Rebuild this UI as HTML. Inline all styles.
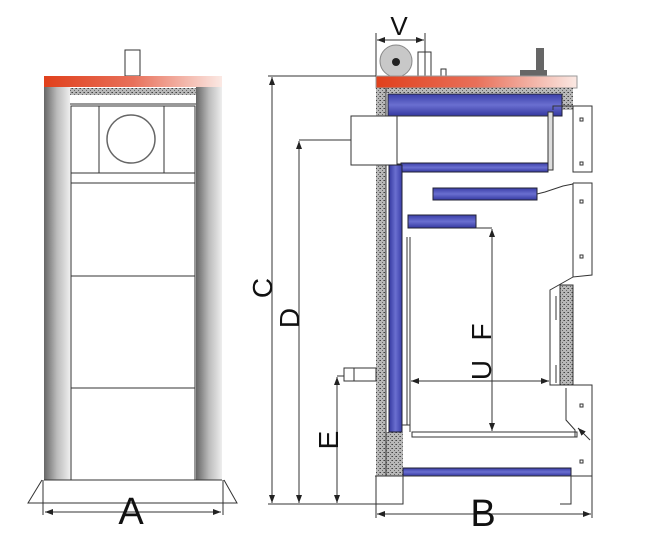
<!DOCTYPE html>
<html><head><meta charset="utf-8"><style>
body{margin:0;background:#fff;}
svg{display:block;}
text{font-family:"Liberation Sans",sans-serif;fill:#111;}
</style></head><body>
<svg width="662" height="541" viewBox="0 0 662 541" xmlns="http://www.w3.org/2000/svg">
<defs>
<linearGradient id="red" x1="0" x2="1"><stop offset="0" stop-color="#e0401c"/><stop offset="0.5" stop-color="#e8705a"/><stop offset="1" stop-color="#fbe9e4"/></linearGradient>
<linearGradient id="col" x1="0" x2="1"><stop offset="0" stop-color="#666"/><stop offset="0.5" stop-color="#bbb"/><stop offset="1" stop-color="#eee"/></linearGradient>
<linearGradient id="blue" x1="0" x2="1"><stop offset="0" stop-color="#3438a0"/><stop offset="0.5" stop-color="#6a6fd0"/><stop offset="1" stop-color="#3a3ea8"/></linearGradient>
<linearGradient id="blueV" x1="0" y1="0" x2="0" y2="1"><stop offset="0" stop-color="#3a3ea8"/><stop offset="0.5" stop-color="#6a6fd0"/><stop offset="1" stop-color="#3438a0"/></linearGradient>
<pattern id="ins" width="4" height="4" patternUnits="userSpaceOnUse"><rect width="4" height="4" fill="#b8b8b8"/><rect x="0" y="0" width="1" height="1" fill="#444"/><rect x="2" y="2" width="1" height="1" fill="#666"/><rect x="3" y="0" width="1" height="1" fill="#777"/></pattern>
<marker id="ar" markerWidth="8" markerHeight="6" refX="8" refY="3" orient="auto" markerUnits="userSpaceOnUse"><path d="M0,0 L8,3 L0,6z" fill="#222"/></marker>
</defs>
<g stroke="#333" stroke-width="1" fill="none">
<rect x="125" y="50" width="15" height="26" fill="#fff"/>
<rect x="44" y="76" width="178" height="11" fill="url(#red)" stroke="none"/>
<rect x="44" y="87" width="26" height="393" fill="url(#col)" stroke="none"/>
<rect x="196" y="87" width="26" height="393" fill="url(#col)" stroke="none"/>
<rect x="70" y="88" width="126" height="7" fill="url(#ins)" stroke="none"/>
<line x1="70" y1="104" x2="196" y2="104"/>
<rect x="71" y="106" width="124" height="374"/>
<rect x="99" y="106" width="65" height="67" fill="#fff"/>
<circle cx="131" cy="139" r="24" stroke="#666" stroke-width="1.5"/>
<line x1="71" y1="173" x2="195" y2="173"/>
<line x1="71" y1="183" x2="195" y2="183"/>
<line x1="71" y1="276" x2="195" y2="276"/>
<line x1="71" y1="388" x2="195" y2="388"/>
<line x1="44" y1="480" x2="222" y2="480"/>
<path d="M42,480 L28,503 L237,503 L224,480"/>
<line x1="43" y1="480" x2="43" y2="515"/>
<line x1="223" y1="480" x2="223" y2="515"/>
<line x1="60" y1="512" x2="45" y2="512" marker-end="url(#ar)"/>
<line x1="60" y1="512" x2="206" y2="512"/>
<line x1="206" y1="512" x2="221" y2="512" marker-end="url(#ar)"/>
<circle cx="396" cy="61" r="16" fill="#c8c8c8" stroke="#888"/>
<circle cx="396" cy="62" r="4" fill="#222" stroke="none"/>
<rect x="418" y="52" width="13" height="24" fill="#fff"/>
<rect x="441" y="69" width="5" height="7" fill="#fff"/>
<rect x="520" y="70" width="27" height="6" fill="#666" stroke="none"/>
<rect x="536" y="48" width="8" height="22" fill="#666" stroke="none"/>
<line x1="376" y1="33" x2="376" y2="76"/>
<line x1="425" y1="33" x2="425" y2="76"/>
<line x1="390" y1="40" x2="377" y2="40" marker-end="url(#ar)"/>
<line x1="390" y1="40" x2="410" y2="40"/>
<line x1="410" y1="40" x2="424" y2="40" marker-end="url(#ar)"/>
<rect x="376" y="76" width="201" height="12" fill="url(#red)" stroke="#999"/>
<rect x="376" y="88" width="10" height="388" fill="url(#ins)" stroke="none"/>
<rect x="386" y="88" width="187" height="5" fill="url(#ins)" stroke="none"/>
<rect x="562" y="88" width="11" height="22" fill="url(#ins)" stroke="none"/>
<rect x="376" y="432" width="27" height="44" fill="url(#ins)" stroke="none"/>
<line x1="386" y1="88" x2="386" y2="476"/>
<rect x="388" y="94" width="174" height="22" fill="url(#blueV)" stroke="#223"/>
<rect x="351" y="116" width="46" height="49" fill="#fff"/>
<line x1="397" y1="116" x2="548" y2="116"/>
<line x1="397" y1="164" x2="548" y2="164"/>
<rect x="548" y="112" width="5" height="58" fill="#ddd"/>
<rect x="401" y="163" width="147" height="9" fill="url(#blueV)" stroke="#223"/>
<rect x="389" y="165" width="13" height="267" fill="url(#blue)" stroke="#223"/>
<rect x="433" y="188" width="104" height="12" fill="url(#blueV)" stroke="#223"/>
<path d="M537,194 L545,192 L563,186 L573,184"/>
<rect x="408" y="215" width="68" height="13" fill="url(#blueV)" stroke="#223"/>
<line x1="407" y1="237" x2="407" y2="425"/>
<line x1="410" y1="237" x2="410" y2="425"/>
<path d="M402,425 L410,425 L410,432"/>
<rect x="412" y="432" width="165" height="5" fill="#fff"/>
<rect x="403" y="468" width="168" height="8" fill="url(#blueV)" stroke="#223"/>
<path d="M553,110 L553,106 L573,106 L573,172 L592,172 L592,106 L573,106"/>
<path d="M573,183 L592,183 L592,275 L573,277 L573,183"/>
<path d="M573,277 L550,290 L550,385 L573,385"/>
<rect x="560" y="285" width="13" height="100" fill="url(#ins)" stroke="#333"/>
<path d="M556,296 L556,320 M556,365 L556,383"/>
<path d="M562,385 L592,385 L592,480 M566,388 L566,420 L575,430 L575,437"/>
<path d="M590,440 L578,428" marker-end="url(#ar)"/>
<rect x="580" y="118" width="3" height="3"/><rect x="580" y="162" width="3" height="3"/>
<rect x="580" y="200" width="3" height="3"/><rect x="580" y="255" width="3" height="3"/>
<rect x="580" y="404" width="3" height="3"/><rect x="580" y="460" width="3" height="3"/>
<path d="M375,476 L592,476"/>
<path d="M376,476 L376,518 M592,476 L592,518"/>
<path d="M403,476 L403,504 L375,504"/>
<path d="M571,476 L571,504 L560,504"/>
<line x1="390" y1="514" x2="377" y2="514" marker-end="url(#ar)"/>
<line x1="390" y1="514" x2="578" y2="514"/>
<line x1="578" y1="514" x2="591" y2="514" marker-end="url(#ar)"/>
<rect x="344" y="368" width="32" height="13" fill="#fff"/>
<line x1="354" y1="368" x2="354" y2="381"/>
<line x1="268" y1="76" x2="376" y2="76"/>
<line x1="268" y1="504" x2="376" y2="504"/>
<line x1="272" y1="95" x2="272" y2="77" marker-end="url(#ar)"/>
<line x1="272" y1="95" x2="272" y2="485"/>
<line x1="272" y1="485" x2="272" y2="503" marker-end="url(#ar)"/>
<line x1="299" y1="140" x2="351" y2="140"/>
<line x1="299" y1="160" x2="299" y2="141" marker-end="url(#ar)"/>
<line x1="299" y1="160" x2="299" y2="485"/>
<line x1="299" y1="485" x2="299" y2="503" marker-end="url(#ar)"/>
<line x1="337" y1="376" x2="344" y2="376"/>
<line x1="337" y1="395" x2="337" y2="377" marker-end="url(#ar)"/>
<line x1="337" y1="395" x2="337" y2="485"/>
<line x1="337" y1="485" x2="337" y2="503" marker-end="url(#ar)"/>
<line x1="476" y1="228" x2="492" y2="228"/>
<line x1="492" y1="248" x2="492" y2="229" marker-end="url(#ar)"/>
<line x1="492" y1="248" x2="492" y2="412"/>
<line x1="492" y1="412" x2="492" y2="431" marker-end="url(#ar)"/>
<line x1="430" y1="381" x2="411" y2="381" marker-end="url(#ar)"/>
<line x1="430" y1="381" x2="530" y2="381"/>
<line x1="530" y1="381" x2="549" y2="381" marker-end="url(#ar)"/>
</g>
<text x="131" y="524" font-size="38" text-anchor="middle">A</text>
<text x="483" y="526" font-size="38" text-anchor="middle">B</text>
<text x="399" y="35" font-size="26" text-anchor="middle">V</text>
<text transform="translate(272,288) rotate(-90)" font-size="28" text-anchor="middle">C</text>
<text transform="translate(299,318) rotate(-90)" font-size="28" text-anchor="middle">D</text>
<text transform="translate(338,440) rotate(-90)" font-size="28" text-anchor="middle">E</text>
<text transform="translate(491,332) rotate(-90)" font-size="28" text-anchor="middle">F</text>
<text transform="translate(491,370) rotate(-90)" font-size="28" text-anchor="middle">U</text>
</svg>
</body></html>
